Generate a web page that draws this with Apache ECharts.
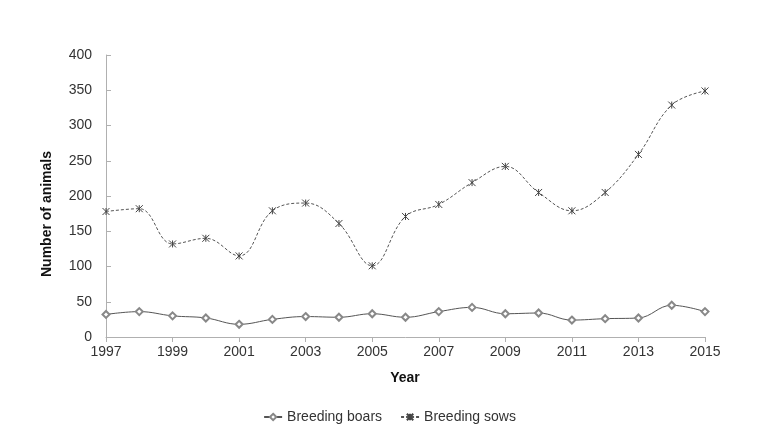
<!DOCTYPE html>
<html>
<head>
    <meta charset="utf-8">
    <title>Breeding animals</title>
    <script src="https://cdn.jsdelivr.net/npm/echarts@6/dist/echarts.min.js"></script>
    <style>
        body { margin: 0; background: #fff; }
        #main { width: 779px; height: 438px; }
    </style>
</head>
<body>
    <div id="main"></div>
    <script type="text/javascript">
        // values
        var years = ['1997', '1998', '1999', '2000', '2001', '2002', '2003', '2004', '2005', '2006',
                     '2007', '2008', '2009', '2010', '2011', '2012', '2013', '2014', '2015'];
        var boars = [32, 36, 30, 27, 18, 25, 29, 28, 33, 28, 36, 42, 33, 34, 24, 26, 27, 45, 36];
        var sows = [178, 182, 132, 140, 115, 179, 190, 161, 101, 171, 188, 219, 242, 205, 179, 205, 259, 329, 349];

        var font = '"Liberation Sans Narrow", "Liberation Sans", Arial, sans-serif';
        var asterisk = 'path://M0,0L10,10M10,0L0,10M5,0L5,10';

        var myChart = echarts.init(document.getElementById('main'));

        var option = {
            animation: false,
            backgroundColor: '#fff',
            grid: { left: 106, right: 74, top: 55, bottom: 101 },
            legend: {
                bottom: 9,
                left: 'center',
                itemWidth: 18,
                itemHeight: 8,
                itemGap: 18,
                textStyle: { fontFamily: font, fontSize: 14, color: '#333' },
                data: ['Breeding boars', 'Breeding sows']
            },
            xAxis: {
                type: 'category',
                data: years,
                boundaryGap: false,
                axisLine: { lineStyle: { color: '#b0b0b0' } },
                axisTick: { interval: 1, length: 5, lineStyle: { color: '#b0b0b0' } },
                axisLabel: { interval: 1, margin: 8, fontFamily: font, fontSize: 14, color: '#333' }
            },
            yAxis: {
                type: 'value',
                min: 0,
                max: 400,
                interval: 50,
                splitLine: { show: false },
                axisLine: { show: true, lineStyle: { color: '#b0b0b0' } },
                axisTick: { show: true, inside: true, length: 5, lineStyle: { color: '#b0b0b0' } },
                axisLabel: { margin: 14, fontFamily: font, fontSize: 14, color: '#333' }
            },
            graphic: [
                {
                    type: 'text',
                    x: 47, y: 214,
                    rotation: Math.PI / 2,
                    style: {
                        text: 'Number of animals',
                        font: 'bold 14px ' + font,
                        fill: '#111',
                        align: 'center',
                        verticalAlign: 'middle'
                    }
                },
                {
                    type: 'text',
                    x: 405, y: 378,
                    style: {
                        text: 'Year',
                        font: 'bold 14px ' + font,
                        fill: '#111',
                        align: 'center',
                        verticalAlign: 'middle'
                    }
                }
            ],
            series: [
                {
                    name: 'Breeding boars',
                    type: 'line',
                    data: boars,
                    smooth: 0.4,
                    symbol: 'emptyDiamond',
                    symbolSize: 7,
                    lineStyle: { color: '#555', width: 1 },
                    itemStyle: { color: '#888', borderColor: '#888', borderWidth: 1 }
                },
                {
                    name: 'Breeding sows',
                    type: 'line',
                    data: sows,
                    smooth: 0.4,
                    symbol: asterisk,
                    symbolSize: 7,
                    lineStyle: { color: '#555', width: 1, type: [3, 2] },
                    itemStyle: { color: 'none', borderColor: '#444', borderWidth: 1 }
                }
            ]
        };

        myChart.setOption(option);
    </script>
</body>
</html>
